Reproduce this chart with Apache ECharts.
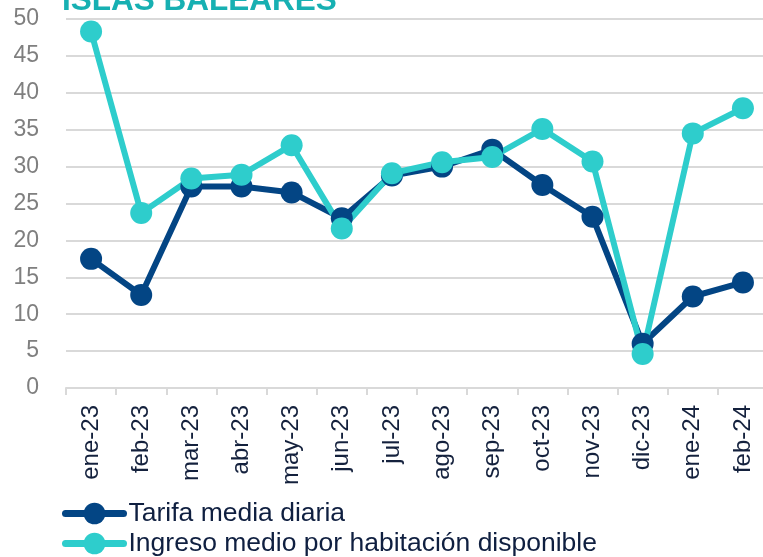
<!DOCTYPE html>
<html>
<head>
<meta charset="utf-8">
<script src="https://cdn.jsdelivr.net/npm/echarts@6/dist/echarts.min.js"></script>
<style>
  html, body { margin: 0; padding: 0; background: #fff; overflow: hidden; }
  /* plot runs slightly past the right edge in the original, so the canvas is wider than the window */
  #chart { width: 770px; height: 557px; }
</style>
</head>
<body>
<div id="chart"></div>
<script>
// months shown on the x axis
var months = ['ene-23', 'feb-23', 'mar-23', 'abr-23', 'may-23', 'jun-23', 'jul-23',
  'ago-23', 'sep-23', 'oct-23', 'nov-23', 'dic-23', 'ene-24', 'feb-24'];
// Tarifa media diaria
var tarifaMedia = [17.5, 12.6, 27.3, 27.3, 26.5, 23.0, 28.8, 30.0, 32.3, 27.5, 23.2, 6.0, 12.4, 14.3];
// Ingreso medio por habitación disponible
var ingresoMedio = [48.3, 23.7, 28.4, 28.9, 32.9, 21.6, 29.1, 30.6, 31.3, 35.1, 30.7, 4.6, 34.5, 37.9];

var chart = echarts.init(document.getElementById('chart'));

var option = {
  backgroundColor: '#fff',
  animation: false,
  textStyle: { fontFamily: 'Liberation Sans, Arial, sans-serif' },
  title: {
    text: 'ISLAS BALEARES',
    left: 62,
    top: -15,
    padding: 0,
    textStyle: { color: '#17b0b2', fontSize: 31.5, fontWeight: 'bold' },
  },
  grid: { left: 66, right: 2, top: 19, bottom: 169, containLabel: false },
  legend: {
    orient: 'vertical',
    left: 62,
    top: 500,
    padding: 0,
    itemWidth: 58,
    itemHeight: 27,
    itemGap: 3,
    textStyle: { color: '#0f1f40', fontSize: 26.5 },
    lineStyle: { width: 7, cap: 'round' },
    data: ['Tarifa media diaria', 'Ingreso medio por habitación disponible'],
  },
  xAxis: {
    type: 'category',
    data: months,
    boundaryGap: true,
    axisLine: { lineStyle: { color: '#d9d9d9', width: 2 } },
    axisTick: { show: true, length: 7, lineStyle: { color: '#d9d9d9', width: 2 } },
    axisLabel: {
      rotate: 90,
      margin: 17,
      color: '#14213d',
      fontSize: 24,
      interval: 0,
    },
    splitLine: { show: false },
  },
  yAxis: {
    type: 'value',
    min: 0,
    max: 50,
    interval: 5,
    axisLine: { show: false },
    axisTick: { show: false },
    axisLabel: { color: '#7f7f7f', fontSize: 23, margin: 27 },
    splitLine: { lineStyle: { color: '#d9d9d9', width: 2 } },
  },
  series: [
    {
      name: 'Tarifa media diaria',
      type: 'line',
      data: tarifaMedia,
      symbol: 'circle',
      symbolSize: 22,
      color: '#034584',
      lineStyle: { width: 6, color: '#034584' },
      itemStyle: { color: '#034584' },
    },
    {
      name: 'Ingreso medio por habitación disponible',
      type: 'line',
      data: ingresoMedio,
      symbol: 'circle',
      symbolSize: 22,
      color: '#2ecdcc',
      lineStyle: { width: 6, color: '#2ecdcc' },
      itemStyle: { color: '#2ecdcc' },
    },
  ],
};

chart.setOption(option);
</script>
</body>
</html>
